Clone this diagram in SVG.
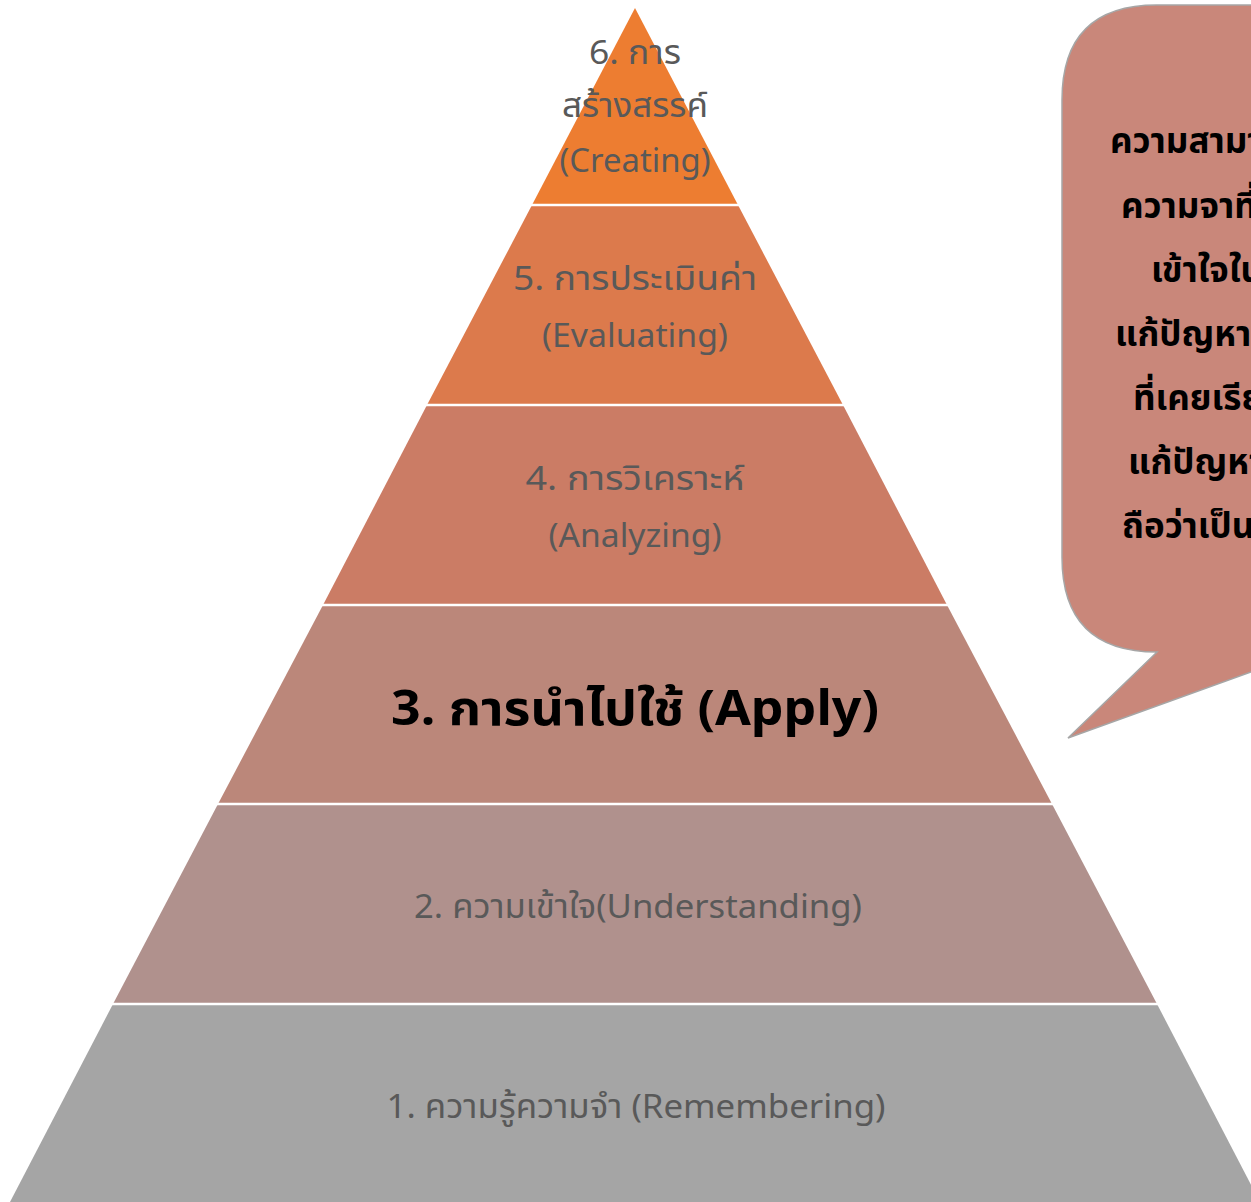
<svg xmlns="http://www.w3.org/2000/svg" width="1251" height="1202" viewBox="0 0 1251 1202">
<style>
.lbl{font-family:"Noto Sans","Noto Sans Thai",sans-serif;font-size:33px;fill:#595959;text-anchor:middle}
.main{font-family:"Noto Sans","Noto Sans Thai",sans-serif;font-size:48px;font-weight:bold;fill:#000;text-anchor:middle}
.call{font-family:"Noto Sans","Noto Sans Thai",sans-serif;font-size:35px;font-weight:bold;fill:#000}
.sep{stroke:#fff;stroke-width:2.5}
</style>
<rect width="1251" height="1202" fill="#fff"/>
<g id="layer6">
<polygon points="635,8 532,205 738,205" fill="#ED7D31"/>
<text class="lbl" x="635" y="64" textLength="92" lengthAdjust="spacingAndGlyphs">6. การ</text>
<text class="lbl" x="635" y="117" textLength="146" lengthAdjust="spacingAndGlyphs">สร้างสรรค์</text>
<text class="lbl" x="635" y="172" textLength="151" lengthAdjust="spacingAndGlyphs">(Creating)</text>
</g>
<g id="layer5">
<polygon points="532,205 738,205 843,405 427,405" fill="#DC7A4C"/>
<text class="lbl" x="635" y="290" textLength="244" lengthAdjust="spacingAndGlyphs">5. การประเมินค่า</text>
<text class="lbl" x="635" y="347" textLength="186" lengthAdjust="spacingAndGlyphs">(Evaluating)</text>
</g>
<g id="layer4">
<polygon points="427,405 843,405 947,605 323,605" fill="#CB7C65"/>
<text class="lbl" x="635" y="490" textLength="219" lengthAdjust="spacingAndGlyphs">4. การวิเคราะห์</text>
<text class="lbl" x="635" y="547" textLength="173" lengthAdjust="spacingAndGlyphs">(Analyzing)</text>
</g>
<g id="layer3">
<polygon points="323,605 947,605 1052,804 218,804" fill="#BB877A"/>
<text class="main" x="635" y="725" textLength="488" lengthAdjust="spacingAndGlyphs">3. การนำไปใช้ (Apply)</text>
</g>
<g id="layer2">
<polygon points="218,804 1052,804 1157,1004 113,1004" fill="#B0918D"/>
<text class="lbl" x="638" y="918" textLength="448" lengthAdjust="spacingAndGlyphs">2. ความเข้าใจ(Understanding)</text>
</g>
<g id="layer1">
<polygon points="113,1004 1157,1004 1260,1202 10,1202" fill="#A5A5A5"/>
<text class="lbl" x="636" y="1118" textLength="499" lengthAdjust="spacingAndGlyphs">1. ความรู้ความจำ (Remembering)</text>
</g>
<g id="connectors">
<line class="sep" x1="0" y1="205" x2="1251" y2="205"/>
<line class="sep" x1="0" y1="405" x2="1060" y2="405"/>
<line class="sep" x1="0" y1="605" x2="1060" y2="605"/>
<line class="sep" x1="0" y1="804" x2="1251" y2="804"/>
<line class="sep" x1="0" y1="1004" x2="1251" y2="1004"/>
</g>
<g id="callout">
<path d="M1157,5 L1300,5 L1300,650 L1251,672 L1068,738 L1157,652 Q1062,652 1062,557 L1062,100 Q1062,5 1157,5 Z" fill="#C9877A" stroke="#A6A6A6" stroke-width="1.5"/>
<text class="call" x="1110" y="153">ความสามารถ</text>
<text class="call" x="1121" y="218">ความจาที่</text>
<text class="call" x="1151" y="282">เข้าใจใน</text>
<text class="call" x="1115" y="346">แก้ปัญหาใน</text>
<text class="call" x="1133" y="410">ที่เคยเรียน</text>
<text class="call" x="1128" y="474">แก้ปัญหา</text>
<text class="call" x="1122" y="538">ถือว่าเป็น</text>
</g>
</svg>
